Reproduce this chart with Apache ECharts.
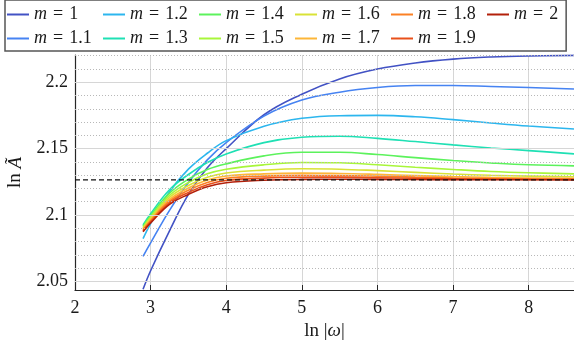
<!DOCTYPE html>
<html>
<head>
<meta charset="utf-8">
<script src="https://cdn.jsdelivr.net/npm/echarts@6/dist/echarts.min.js"></script>
<style>
html, body { margin: 0; padding: 0; background: #fff; }
#chart { width: 574px; height: 348px; }
</style>
</head>
<body>
<div id="chart"></div>
<script>
// ln|w| sample points
var lnOmega = [2.9, 3.0, 3.25, 3.5, 3.75, 4.0, 4.5, 5.0, 5.5, 6.0, 6.5, 7.0, 7.5, 8.0, 8.6];

// ln A~ for each m
var lnA_m10 = [2.0440, 2.0580, 2.0880, 2.1155, 2.1355, 2.1500, 2.1755, 2.1910, 2.2025, 2.2099, 2.2145, 2.2174, 2.2190, 2.2198, 2.2202];
var lnA_m11 = [2.0689, 2.0790, 2.1035, 2.1245, 2.1415, 2.1545, 2.1745, 2.1866, 2.1925, 2.1960, 2.1975, 2.1975, 2.1968, 2.1960, 2.1949];
var lnA_m12 = [2.0822, 2.0935, 2.1175, 2.1345, 2.1465, 2.1560, 2.1668, 2.1728, 2.1748, 2.1750, 2.1740, 2.1718, 2.1693, 2.1670, 2.1648];
var lnA_m13 = [2.0925, 2.1010, 2.1190, 2.1305, 2.1395, 2.1460, 2.1545, 2.1585, 2.1593, 2.1577, 2.1553, 2.1528, 2.1505, 2.1485, 2.1460];
var lnA_m14 = [2.0915, 2.0997, 2.1165, 2.1270, 2.1342, 2.1385, 2.1445, 2.1472, 2.1472, 2.1455, 2.1432, 2.1410, 2.1392, 2.1378, 2.1370];
var lnA_m15 = [2.0907, 2.0985, 2.1148, 2.1245, 2.1310, 2.1345, 2.1378, 2.1395, 2.1393, 2.1378, 2.1360, 2.1343, 2.1328, 2.1318, 2.1310];
var lnA_m16 = [2.0900, 2.0975, 2.1132, 2.1222, 2.1284, 2.1316, 2.1338, 2.1348, 2.1345, 2.1334, 2.1321, 2.1309, 2.1299, 2.1293, 2.1288];
var lnA_m17 = [2.0893, 2.0965, 2.1117, 2.1203, 2.1263, 2.1294, 2.1310, 2.1315, 2.1313, 2.1306, 2.1297, 2.1289, 2.1283, 2.1279, 2.1277];
var lnA_m18 = [2.0886, 2.0956, 2.1104, 2.1186, 2.1245, 2.1277, 2.1293, 2.1298, 2.1297, 2.1292, 2.1285, 2.1279, 2.1275, 2.1272, 2.1270];
var lnA_m19 = [2.0880, 2.0948, 2.1092, 2.1170, 2.1228, 2.1260, 2.1278, 2.1284, 2.1285, 2.1281, 2.1277, 2.1273, 2.1270, 2.1268, 2.1267];
var lnA_m20 = [2.0874, 2.0940, 2.1080, 2.1155, 2.1212, 2.1243, 2.1262, 2.1268, 2.1269, 2.1268, 2.1267, 2.1266, 2.1265, 2.1265, 2.1264];

var mLabels = ['1', '1.1', '1.2', '1.3', '1.4', '1.5', '1.6', '1.7', '1.8', '1.9', '2'];
var mColors = ['#4252c4', '#4683f2', '#2cb6ee', '#1fe0b4', '#5cf25c', '#a8f63a', '#d9e236', '#fdb638', '#fb8024', '#e8501a', '#b3200a'];
// legend is filled column by column (2 rows)
var legendOrder = ['1', '1.2', '1.4', '1.6', '1.8', '2', '1.1', '1.3', '1.5', '1.7', '1.9'];

var xTicks = [2, 3, 4, 5, 6, 7, 8];
var yMajorTicks = [2.05, 2.1, 2.15, 2.2];
var yMinorTicks = [2.06, 2.07, 2.08, 2.09, 2.11, 2.12, 2.13, 2.14, 2.16, 2.17, 2.18, 2.19, 2.21, 2.22];
var refLevel = 2.1265;

var allLnA = [lnA_m10, lnA_m11, lnA_m12, lnA_m13, lnA_m14, lnA_m15, lnA_m16, lnA_m17, lnA_m18, lnA_m19, lnA_m20];

var serif = 'Liberation Serif';
var chart = echarts.init(document.getElementById('chart'));

function pairs(ys) {
    return lnOmega.map(function(x, i) { return [x, ys[i]]; });
}

var series = [];

// grid lines (drawn as markLines so they can sit on the real tick values)
var gridLines = [];
yMajorTicks.forEach(function(v) {
    gridLines.push({ yAxis: v, lineStyle: { color: '#d6d6d6', width: 1, type: 'solid' } });
});
yMinorTicks.forEach(function(v) {
    gridLines.push({ yAxis: v, lineStyle: { color: '#b8b8b8', width: 1, type: [1, 2] } });
});
series.push({
    name: 'grid',
    type: 'line',
    data: [],
    z: 1,
    silent: true,
    markLine: {
        silent: true,
        symbol: ['none', 'none'],
        label: { show: false },
        animation: false,
        data: gridLines
    }
});

allLnA.forEach(function(ys, i) {
    series.push({
        name: 'm = ' + mLabels[i],
        type: 'line',
        data: pairs(ys),
        showSymbol: false,
        symbol: 'none',
        smooth: 0.4,
        z: 3,
        lineStyle: { width: 1.6, color: mColors[i] },
        itemStyle: { color: mColors[i] }
    });
});

series.push({
    name: 'ref',
    type: 'line',
    data: [[2, refLevel], [8.6, refLevel]],
    showSymbol: false,
    symbol: 'none',
    z: 6,
    silent: true,
    lineStyle: { color: '#111', width: 1.3, type: [5, 3] }
});

var txt = '#1a1a1a';

var option = {
    animation: false,
    backgroundColor: '#fff',
    grid: { left: 75, right: 0, top: 55, bottom: 58, outerBoundsMode: 'none' },
    legend: {
        data: legendOrder.map(function(v) { return 'm = ' + v; }),
        left: 5,
        top: 0,
        width: 566,
        padding: [4, 8, 2, 2],
        itemGap: 3,
        itemWidth: 22,
        itemHeight: 2,
        icon: 'rect',
        borderColor: '#555',
        borderWidth: 1.5,
        backgroundColor: '#fff',
        formatter: function(name) {
            var v = name.slice(4);
            var seg = v === '2' ? 'e' : 't';
            return '{i|m}{' + seg + '|\u2004=\u2004' + v + '}';
        },
        textStyle: {
            color: txt,
            lineHeight: 21,
            rich: {
                i: { fontFamily: serif, fontStyle: 'italic', fontSize: 18, lineHeight: 21, color: txt },
                t: { fontFamily: serif, fontSize: 18, lineHeight: 21, width: 53, color: txt },
                e: { fontFamily: serif, fontSize: 18, lineHeight: 21, color: txt }
            }
        }
    },
    xAxis: {
        type: 'value',
        min: 2,
        max: 8.6,
        interval: 1,
        name: '{n|ln |}{a|ω}{n||}',
        nameLocation: 'middle',
        nameGap: 28,
        nameTextStyle: {
            rich: {
                n: { fontFamily: serif, fontSize: 19, color: txt },
                a: { fontFamily: serif, fontSize: 19, fontStyle: 'italic', color: txt }
            }
        },
        axisLine: { show: true, onZero: false, lineStyle: { color: '#262626', width: 1.2 } },
        axisTick: { show: true, inside: true, length: 5, customValues: xTicks, lineStyle: { color: '#262626' } },
        axisLabel: { customValues: xTicks, margin: 9, fontFamily: serif, fontSize: 18, color: txt },
        splitLine: { show: true, lineStyle: { color: '#d6d6d6', width: 1 } }
    },
    yAxis: {
        type: 'value',
        min: 2.0435,
        max: 2.2205,
        name: '{n|ln }{a|Ã}',
        nameLocation: 'middle',
        nameGap: 50,
        nameRotate: 90,
        nameTextStyle: {
            rich: {
                n: { fontFamily: serif, fontSize: 19, color: txt },
                a: { fontFamily: serif, fontSize: 19, fontStyle: 'italic', color: txt }
            }
        },
        axisLine: { show: true, onZero: false, lineStyle: { color: '#262626', width: 1.2 } },
        axisTick: { show: true, inside: true, length: 5, customValues: yMajorTicks, lineStyle: { color: '#262626' } },
        axisLabel: { customValues: yMajorTicks, margin: 7, fontFamily: serif, fontSize: 18, color: txt },
        splitLine: { show: false }
    },
    series: series
};

chart.setOption(option);
</script>
</body>
</html>
